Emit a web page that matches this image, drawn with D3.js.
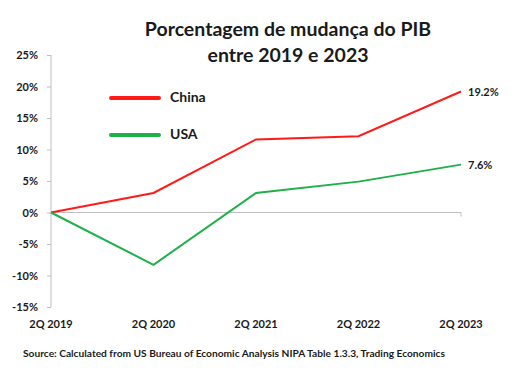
<!DOCTYPE html>
<html>
<head>
<meta charset="utf-8">
<script src="https://cdn.jsdelivr.net/npm/d3@7"></script>
<style>
  body { margin: 0; background: #fff; }
  svg text { font-family: Lato, "Open Sans", sans-serif; font-weight: bold; fill: #1a1a1a; }
</style>
</head>
<body>
<svg id="chart" width="520" height="370"></svg>
<script>
// categories and series values (percent change since 2Q 2019)
var periods = ['2Q 2019', '2Q 2020', '2Q 2021', '2Q 2022', '2Q 2023'];
var china = [0, 3.1, 11.6, 12.1, 19.2];
var usa = [0, -8.3, 3.1, 4.9, 7.6];
var yTicks = [-15, -10, -5, 0, 5, 10, 15, 20, 25];
var seriesNames = ['China', 'USA'];
var seriesColors = ['#ff1a1a', '#1fb04a'];

var svg = d3.select('#chart');

var x = d3.scalePoint().domain(periods).range([51, 461]);
var y = d3.scaleLinear().domain([-15, 25]).range([307, 55]);

// title
svg.append('text')
    .attr('text-anchor', 'middle')
    .attr('font-size', 19.5)
    .selectAll('tspan')
    .data(['Porcentagem de mudança do PIB', 'entre 2019 e 2023'])
    .enter()
    .append('tspan')
    .attr('x', 288)
    .attr('y', function (d, i) { return 36 + i * 26; })
    .text(function (d) { return d; });

// y axis
var yAxis = svg.append('g')
    .attr('transform', 'translate(51,0)')
    .call(d3.axisLeft(y).tickValues(yTicks).tickSize(4).tickPadding(9)
        .tickFormat(function (d) { return d + '%'; }));
yAxis.select('.domain').attr('stroke', '#bfbfbf').attr('d', 'M0,55V307');
yAxis.selectAll('.tick line').attr('stroke', '#bfbfbf');
yAxis.selectAll('.tick text').attr('font-size', 11).attr('fill', '#1a1a1a');

// zero line with end tick
svg.append('path')
    .attr('d', 'M' + x(periods[0]) + ',' + y(0) + 'H' + x(periods[4]) + 'v4')
    .attr('fill', 'none')
    .attr('stroke', '#bfbfbf')
    .attr('stroke-width', 1);

// x labels at bottom
svg.append('g').selectAll('text')
    .data(periods)
    .enter()
    .append('text')
    .attr('x', function (d) { return x(d); })
    .attr('y', 328)
    .attr('text-anchor', 'middle')
    .attr('font-size', 11)
    .text(function (d) { return d; });

// lines
var line = d3.line()
    .x(function (d, i) { return x(periods[i]); })
    .y(function (d) { return y(d); });

[china, usa].forEach(function (vals, k) {
    svg.append('path')
        .datum(vals)
        .attr('d', line)
        .attr('fill', 'none')
        .attr('stroke', seriesColors[k])
        .attr('stroke-width', 2);

    var last = vals[vals.length - 1];
    svg.append('text')
        .attr('x', x(periods[4]) + 7)
        .attr('y', y(last) + 4)
        .attr('font-size', 11)
        .text(last.toFixed(1) + '%');
});

// legend
var legend = svg.append('g').selectAll('g')
    .data(seriesNames)
    .enter()
    .append('g')
    .attr('transform', function (d, i) { return 'translate(0,' + (98 + i * 37) + ')'; });
legend.append('line')
    .attr('x1', 111).attr('x2', 159)
    .attr('stroke', function (d, i) { return seriesColors[i]; })
    .attr('stroke-width', 4)
    .attr('stroke-linecap', 'round');
legend.append('text')
    .attr('x', 170)
    .attr('y', 4)
    .attr('font-size', 14)
    .text(function (d) { return d; });

// source note
svg.append('text')
    .attr('x', 23)
    .attr('y', 357)
    .attr('font-size', 10.2)
    .text('Source: Calculated from US Bureau of Economic Analysis NIPA Table 1.3.3, Trading Economics');
</script>
</body>
</html>
